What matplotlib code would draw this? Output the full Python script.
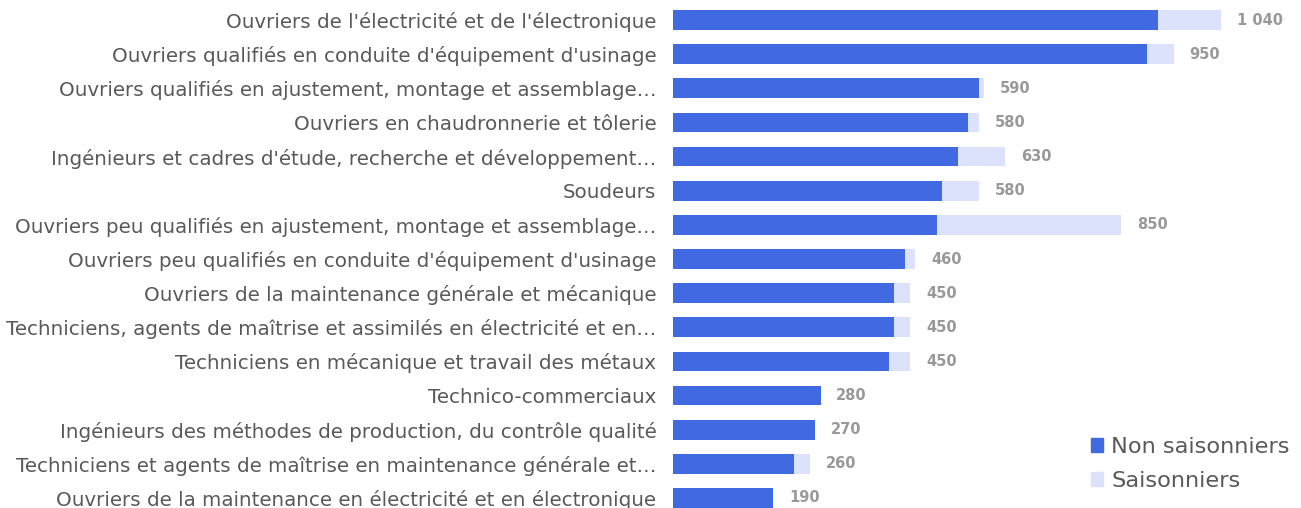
import matplotlib
matplotlib.use("Agg")
import matplotlib.pyplot as plt
from matplotlib.patches import Patch

plt.rcParams['font.family'] = ['DejaVu Sans']

metiers = [
    "Ouvriers de l'électricité et de l'électronique",
    "Ouvriers qualifiés en conduite d'équipement d'usinage",
    "Ouvriers qualifiés en ajustement, montage et assemblage…",
    "Ouvriers en chaudronnerie et tôlerie",
    "Ingénieurs et cadres d'étude, recherche et développement…",
    "Soudeurs",
    "Ouvriers peu qualifiés en ajustement, montage et assemblage…",
    "Ouvriers peu qualifiés en conduite d'équipement d'usinage",
    "Ouvriers de la maintenance générale et mécanique",
    "Techniciens, agents de maîtrise et assimilés en électricité et en…",
    "Techniciens en mécanique et travail des métaux",
    "Technico-commerciaux",
    "Ingénieurs des méthodes de production, du contrôle qualité",
    "Techniciens et agents de maîtrise en maintenance générale et…",
    "Ouvriers de la maintenance en électricité et en électronique",
]
non_saisonniers = [920, 900, 580, 560, 540, 510, 500, 440, 420, 420, 410, 280, 270, 230, 190]
totaux = [1040, 950, 590, 580, 630, 580, 850, 460, 450, 450, 450, 280, 270, 260, 190]
totaux_txt = ["1 040", "950", "590", "580", "630", "580", "850", "460", "450",
              "450", "450", "280", "270", "260", "190"]
saisonniers = [t - n for t, n in zip(totaux, non_saisonniers)]

BLEU = '#4169E1'
CLAIR = '#DCE2FB'

fig = plt.figure(figsize=(13.01, 5.08), dpi=100)
ax = fig.add_axes([673 / 1301, 0, 1 - 673 / 1301, 1])

y = list(range(len(metiers)))
ax.barh(y, non_saisonniers, height=0.58, color=BLEU, label='Non saisonniers')
ax.barh(y, saisonniers, left=non_saisonniers, height=0.58, color=CLAIR, label='Saisonniers')

# totaux en bout de barre
for i, (t, txt) in enumerate(zip(totaux, totaux_txt)):
    ax.text(t + 30, i, txt, va='center', ha='left', fontsize=10.5,
            fontweight='bold', color='#999999')

ax.set_xlim(0, 628 / 0.527)
ax.set_ylim(14.293, -0.586)
ax.set_yticks(y)
ax.set_yticklabels(metiers, fontsize=14.3, color='#595959')
ax.tick_params(axis='y', length=0, pad=12)
ax.set_xticks([])
for s in ax.spines.values():
    s.set_visible(False)

handles = [Patch(color=BLEU), Patch(color=CLAIR)]
fig.legend(handles, ['Non saisonniers', 'Saisonniers'], loc='upper left',
           bbox_to_anchor=(1091 / 1301, 1 - 437 / 508), frameon=False, fontsize=16.2,
           labelcolor='#595959', handlelength=0.55, handleheight=0.55,
           handletextpad=0.36, labelspacing=0.62, borderpad=0, borderaxespad=0)

fig.savefig('out.png', dpi=100)
